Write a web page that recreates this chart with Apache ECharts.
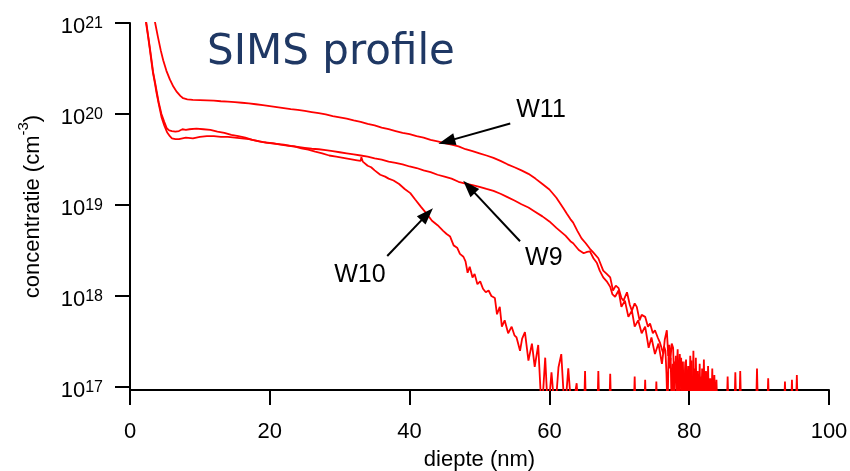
<!DOCTYPE html>
<html>
<head>
<meta charset="utf-8">
<script src="https://cdn.jsdelivr.net/npm/echarts@6/dist/echarts.min.js"></script>
<style>html,body{margin:0;padding:0;background:#fff;}#c{width:850px;height:471px;}</style>
</head>
<body>
<div id="c"></div>
<script>
// ---- data (x in nm, concentration in cm^-3); LOW = below axis floor (clipped), null = gap
const LOW = 5e16;
const xTicks = [0, 20, 40, 60, 80, 100];
const yTicks = [1e17, 1e18, 1e19, 1e20, 1e21];
const seriesNames = ['W11', 'W9', 'W10'];

const w11 = [
 [3.0,1.7e21],[3.3,1.3e21],[3.6,1.0e21],[4.0,7.0e20],[4.4,5.0e20],[4.75,3.9e20],[5.2,3.0e20],[5.7,2.4e20],
 [6.2,2.0e20],[6.7,1.75e20],[7.2,1.58e20],[7.6,1.49e20],[8.2,1.45e20],[9,1.43e20],[10,1.42e20],[11,1.41e20],
 [12,1.40e20],[13,1.38e20],[14,1.37e20],[15,1.35e20],[16,1.33e20],[17,1.31e20],[18,1.28e20],[19,1.25e20],
 [20,1.22e20],[21,1.19e20],[22,1.16e20],[23,1.13e20],[24,1.11e20],[25,1.08e20],[26,1.05e20],[27,1.02e20],
 [28,9.9e19],[29,9.5e19],[30,9.2e19],[31,8.9e19],[32,8.5e19],[33,8.2e19],[34,7.8e19],[35,7.5e19],
 [36,7.1e19],[37,6.8e19],[38,6.5e19],[39,6.2e19],[40,6.0e19],[41,5.7e19],[42,5.5e19],[43,5.2e19],
 [44,5.0e19],[45,4.8e19],[46,4.6e19],[47,4.4e19],[48,4.1e19],[49,3.9e19],[50,3.7e19],[51,3.5e19],
 [52,3.3e19],[53,3.05e19],[54,2.8e19],[55,2.6e19],[56,2.4e19],[57,2.2e19],[58,1.95e19],[59,1.7e19],
 [60,1.48e19],[61,1.2e19],[61.5,1.05e19],[62,9.2e18],[62.5,8.0e18],[63,7.0e18],[63.4,6.4e18],[64,5.2e18],
 [64.6,4.3e18],[65.2,3.8e18],[65.8,3.3e18],[66.3,3.0e18],[67.0,2.6e18],[67.7,1.9e18],[68.2,1.75e18],[68.7,1.6e18],
 [69.1,1.15e18],[69.5,1.3e18],[69.9,1.22e18],[70.3,9.5e17],[70.6,8.9e17],[71.1,1.1e18],[71.5,8.0e17],[71.8,6.9e17],
 [72.2,8.3e17],[72.5,7.6e17],[72.9,5.4e17],[73.2,6.2e17],[73.7,5.9e17],[74.1,4.6e17],[74.4,5.0e17],[74.8,3.9e17],
 [75.1,4.2e17],[75.5,3.5e17],[75.8,3.1e17],[76.3,2.3e17],[76.5,3.3e17],[76.8,4.2e17],[77.0,2.2e17],[77.15,2.9e17],
 [77.3,1.95e17],[77.5,3.0e17],[77.7,2.7e17],[77.85,1.1e17],[78.0,1.9e17],[78.2,1.4e17],[78.35,2.6e17],[78.5,LOW],
 [78.65,2.3e17],[78.8,1.3e17],[78.95,LOW],[79.1,1.9e17],[79.25,LOW],[79.4,1.5e17],[79.55,2.0e17],[79.7,LOW],
 [79.85,1.7e17],[80.0,LOW],[80.15,2.2e17],[80.3,1.2e17],[80.45,LOW],[80.6,2.5e17],[80.75,LOW],[80.9,1.6e17],
 [81.05,LOW],[81.2,1.4e17],[81.35,LOW],[81.5,1.8e17],[81.65,LOW],[81.8,1.3e17],[81.95,LOW],[82.1,2.0e17],
 [82.25,LOW],[82.4,1.5e17],[82.55,LOW],[82.7,1.7e17],[82.85,LOW],[83.0,1.25e17],[83.15,LOW],[83.3,1.6e17],
 [83.45,LOW],[83.6,1.35e17],[83.75,LOW],[83.9,1.2e17],[84.05,LOW],[84.1,null],
 [85.35,LOW],[85.5,1.3e17],[85.65,LOW],[85.7,null],
 [87.15,LOW],[87.3,1.5e17],[87.45,LOW],[87.5,null],
 [91.15,LOW],[91.3,1.25e17],[91.45,LOW],[91.5,null],
 [94.55,LOW],[94.7,1.2e17],[94.85,LOW]
];

const w9 = [
 [2.0,1.6e21],[2.3,1.0e21],[2.6,7.0e20],[2.86,5.0e20],[3.1,3.6e20],[3.3,2.8e20],[3.6,2.1e20],[3.8,1.7e20],
 [4.1,1.3e20],[4.5,9.3e19],[4.9,7.5e19],[5.3,6.3e19],[5.7,5.7e19],[6.0,5.4e19],[6.5,5.3e19],[7.0,5.3e19],
 [8,5.5e19],[9,5.4e19],[10,5.6e19],[11,5.7e19],[12,5.7e19],[13,5.6e19],[14,5.6e19],[15,5.5e19],
 [16,5.4e19],[17,5.3e19],[18,5.1e19],[19,4.9e19],[20,4.8e19],[21,4.7e19],[22,4.6e19],[23,4.45e19],
 [24,4.35e19],[25,4.25e19],[26,4.15e19],[27,4.1e19],[28,4.0e19],[29,3.9e19],[30,3.8e19],[31,3.7e19],
 [32,3.6e19],[33,3.5e19],[34,3.4e19],[35,3.25e19],[36,3.15e19],[37,3.0e19],[38,2.9e19],[39,2.8e19],
 [40,2.65e19],[41,2.55e19],[42,2.4e19],[43,2.3e19],[44,2.15e19],[45,2.05e19],[46,1.95e19],[47,1.8e19],
 [48,1.72e19],[49,1.65e19],[50,1.58e19],[51,1.5e19],[52,1.43e19],[53,1.33e19],[54,1.22e19],[55,1.12e19],
 [56,1.02e19],[57,9.4e18],[58,8.4e18],[59,7.5e18],[60,6.6e18],[61,5.6e18],[61.5,5.2e18],[62.3,4.6e18],
 [63.0,4.0e18],[63.4,3.8e18],[64.2,3.2e18],[64.9,2.95e18],[65.4,3.05e18],[65.8,3.1e18],[66.3,2.6e18],[66.8,2.3e18],
 [67.2,1.9e18],[67.7,1.6e18],[68.2,1.45e18],[68.7,1.26e18],[69.0,1.05e18],[69.4,9.8e17],[69.9,1.15e18],[70.3,7.6e17],
 [70.8,8.9e17],[71.3,5.9e17],[71.8,6.9e17],[72.2,4.6e17],[72.7,5.4e17],[73.2,3.9e17],[73.7,4.6e17],[74.2,2.7e17],
 [74.6,3.5e17],[75.1,2.3e17],[75.6,3.0e17],[76.1,1.8e17],[76.4,2.8e17],[76.6,2.5e17],[76.75,1.4e17],[76.9,LOW],
 [77.05,2.4e17],[77.2,1.6e17],[77.35,2.1e17],[77.5,LOW],[77.65,1.8e17],[77.8,LOW],[77.95,1.5e17],[78.1,2.2e17],
 [78.25,LOW],[78.4,1.8e17],[78.55,LOW],[78.7,1.3e17],[78.85,2.1e17],[79.0,LOW],[79.15,1.4e17],[79.3,LOW],
 [79.45,1.9e17],[79.6,LOW],[79.75,1.5e17],[79.9,LOW],[80.05,1.7e17],[80.2,LOW],[80.35,1.95e17],[80.5,LOW],
 [80.65,1.25e17],[80.8,LOW],[80.95,2.1e17],[81.1,LOW],[81.25,1.5e17],[81.4,LOW],[81.55,1.15e17],[81.7,LOW],
 [81.85,1.6e17],[82.0,LOW],[82.15,1.3e17],[82.3,LOW],[82.45,1.45e17],[82.6,LOW],[82.7,null],
 [86.45,LOW],[86.6,1.45e17],[86.75,LOW],[86.8,null],
 [89.55,LOW],[89.7,1.6e17],[89.85,LOW],[89.9,null],
 [93.55,LOW],[93.7,1.15e17],[93.85,LOW],[93.9,null],
 [95.25,LOW],[95.4,1.35e17],[95.55,LOW]
];

const w10 = [
 [2.0,1.7e21],[2.3,1.05e21],[2.6,7.2e20],[2.86,5.2e20],[3.1,3.8e20],[3.3,2.9e20],[3.6,2.2e20],[3.8,1.8e20],
 [4.1,1.35e20],[4.5,1.0e20],[4.9,8.2e19],[5.25,7.0e19],[5.6,6.6e19],[6.0,6.5e19],[6.5,6.4e19],[7.0,6.5e19],
 [7.5,6.8e19],[8.0,6.7e19],[8.5,6.8e19],[9.5,6.9e19],[10.5,6.8e19],[11.5,6.7e19],[12.5,6.4e19],[13.5,6.2e19],
 [14.5,5.9e19],[15.5,5.7e19],[16.5,5.5e19],[17.5,5.2e19],[18.5,5.0e19],[19.5,4.85e19],[20.5,4.75e19],[21.5,4.6e19],
 [22.5,4.5e19],[23.5,4.4e19],[24.5,4.2e19],[25.5,4.05e19],[26.5,3.85e19],[27.5,3.7e19],[28.5,3.5e19],[29.5,3.4e19],
 [30.5,3.3e19],[31.5,3.2e19],[32.5,3.1e19],[33.0,3.05e19],[33.1,3.35e19],[33.3,3.0e19],[34.0,2.7e19],[34.5,2.6e19],
 [35.0,2.4e19],[35.8,2.15e19],[36.5,2.05e19],[37.0,1.95e19],[37.7,1.86e19],[38.5,1.7e19],[39.3,1.5e19],[40.1,1.35e19],
 [40.8,1.15e19],[41.6,9.6e18],[42.4,8.1e18],[43.2,6.7e18],[44.0,6.0e18],[44.8,5.2e18],[45.3,4.8e18],[45.8,4.5e18],
 [46.3,3.6e18],[46.8,3.4e18],[47.2,2.9e18],[47.7,2.7e18],[48.0,2.4e18],[48.3,1.8e18],[48.6,2.1e18],[49.0,1.6e18],
 [49.3,1.75e18],[49.7,1.35e18],[50.1,1.45e18],[50.5,1.2e18],[50.9,1.1e18],[51.3,1.15e18],[51.7,1.0e18],[52.2,9.5e17],
 [52.5,6.3e17],[52.9,7.6e17],[53.2,4.6e17],[53.6,5.4e17],[54.1,3.9e17],[54.6,4.6e17],[55.0,3.7e17],[55.3,3.5e17],
 [55.8,2.5e17],[56.1,3.4e17],[56.5,4.0e17],[57.0,1.95e17],[57.5,3.0e17],[57.9,1.66e17],[58.4,2.9e17],[58.9,LOW],
 [59.4,2.1e17],[59.8,LOW],[60.3,1.45e17],[60.8,LOW],[61.3,1.65e17],[61.7,2.3e17],[62.2,LOW],[62.7,1.6e17],
 [63.2,LOW],[63.9,1.1e17],[64.2,LOW],[64.3,null],
 [64.95,LOW],[65.1,1.5e17],[65.25,LOW],[65.3,null],
 [66.85,LOW],[67.0,1.5e17],[67.15,LOW],[67.2,null],
 [68.55,LOW],[68.7,1.4e17],[68.85,LOW],[68.9,null],
 [72.05,LOW],[72.2,1.3e17],[72.35,LOW],[72.4,null],
 [73.55,LOW],[73.7,1.2e17],[73.85,LOW],[73.9,null],
 [75.15,LOW],[75.3,1.15e17],[75.45,LOW]
];

// annotation positions (data coords)
const labelPos = { W11: [58.8, 1.1e20], W9: [59.2, 2.6e18], W10: [32.9, 1.7e18] };
const arrowTail = { W11: [54.4, 7.85e19], W9: [55.8, 4.0e18], W10: [36.8, 2.75e18] };
const arrowTip  = { W11: [45.3, 5.0e19], W9: [48.5, 1.58e19], W10: [42.5, 7.9e18] };

const FONT = '"Liberation Sans", Arial, sans-serif';
const chart = echarts.init(document.getElementById('c'), null, { renderer: 'canvas' });

const lineSeries = (name, data) => ({
  name, type: 'line', data, showSymbol: false, symbol: 'none', connectNulls: false,
  lineStyle: { color: '#ff0000', width: 1.8 }, itemStyle: { color: '#ff0000' },
  clip: true, silent: true, z: 2
});

const annot = {
  name: 'annot', type: 'line', data: [], silent: true, z: 5,
  markLine: {
    silent: true, animation: false,
    symbol: ['none', 'triangle'], symbolSize: [12, 17],
    lineStyle: { color: '#000', width: 2, type: 'solid' },
    label: { show: false },
    data: seriesNames.map(n => [{ coord: arrowTail[n] }, { coord: arrowTip[n] }])
  },
  markPoint: {
    silent: true, animation: false,
    symbol: 'circle', symbolSize: 1, itemStyle: { color: 'rgba(0,0,0,0)' },
    label: { show: true, position: 'inside', formatter: '{b}', color: '#000', fontSize: 25, fontFamily: FONT },
    data: seriesNames.map(n => ({ name: n, coord: labelPos[n] }))
  }
};

chart.setOption({
  animation: false,
  backgroundColor: '#fff',
  title: {
    text: 'SIMS profile', left: 202, top: 27,
    textStyle: { fontFamily: '"DejaVu Sans", sans-serif', fontSize: 42, fontWeight: 'normal', color: '#1f3864' }
  },
  grid: { left: 130, right: 21, top: 23, bottom: 81, containLabel: false, outerBoundsMode: 'none' },
  xAxis: {
    type: 'value', min: 0, max: 100, interval: 20,
    name: 'diepte (nm)', nameLocation: 'middle', nameGap: 59,
    nameTextStyle: { fontSize: 22, fontFamily: FONT, color: '#000' },
    axisLine: { show: true, onZero: false, lineStyle: { color: '#000', width: 2 } },
    axisTick: { show: true, inside: false, length: 15, lineStyle: { color: '#000', width: 2 } },
    axisLabel: { show: true, margin: 31, fontSize: 22, fontFamily: FONT, color: '#000',
                 customValues: xTicks },
    splitLine: { show: false }
  },
  yAxis: {
    type: 'log', logBase: 10, min: Math.pow(10, 17 - 3 / 91), max: 1.00001e21,
    name: '{b|concentratie (cm}{sup|-3}{b|)}', nameLocation: 'middle', nameGap: 86,
    nameTextStyle: { fontFamily: FONT, color: '#000',
      rich: {
        b: { fontSize: 22, fontFamily: FONT, color: '#000', lineHeight: 28, verticalAlign: 'bottom' },
        sup: { fontSize: 15, fontFamily: FONT, color: '#000', lineHeight: 15, verticalAlign: 'top' }
      } },
    axisLine: { show: true, onZero: false, lineStyle: { color: '#000', width: 2 } },
    axisTick: { show: true, inside: false, length: 15, lineStyle: { color: '#000', width: 2 },
                customValues: yTicks },
    axisLabel: {
      show: true, margin: 27, customValues: yTicks, padding: [8, 0, 0, 0],
      showMinLabel: true, showMaxLabel: true, hideOverlap: false,
      formatter: v => '{base|10}{sup|' + Math.round(Math.log10(v)) + '}',
      rich: {
        base: { fontSize: 22, fontFamily: FONT, color: '#000', lineHeight: 22, verticalAlign: 'bottom' },
        sup: { fontSize: 16, fontFamily: FONT, color: '#000', lineHeight: 15, verticalAlign: 'top' }
      }
    },
    splitLine: { show: false }
  },
  series: [lineSeries('W11', w11), lineSeries('W9', w9), lineSeries('W10', w10), annot]
});
</script>
</body>
</html>
